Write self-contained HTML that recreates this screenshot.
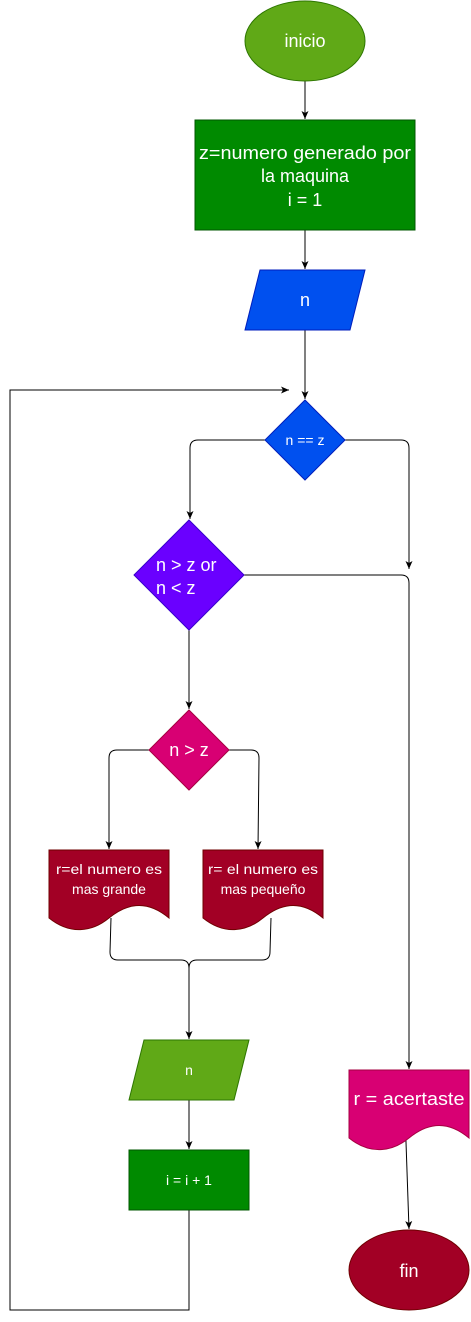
<!DOCTYPE html>
<html><head><meta charset="utf-8"><style>
html,body{margin:0;padding:0;background:#fff;}
svg{display:block;}
text{font-family:"Liberation Sans",sans-serif;fill:#fff;}
</style></head><body>
<svg width="471" height="1322" viewBox="0 0 471 1322">
<defs><marker id="ar" markerWidth="10" markerHeight="10" refX="8" refY="5" orient="auto" markerUnits="userSpaceOnUse"><path d="M0,1.5 L8,5 L0,8.5 L2,5 Z" fill="#000"/></marker></defs>
<g fill="none" stroke="#000" stroke-width="1">
<path d="M305,81 V119" marker-end="url(#ar)"/>
<path d="M305,230 V269" marker-end="url(#ar)"/>
<path d="M305,330 V399" marker-end="url(#ar)"/>
<path d="M265,440 H198 Q190,440 190,448 V519" marker-end="url(#ar)"/>
<path d="M345,440 H401 Q409,440 409,448 V569" marker-end="url(#ar)"/>
<path d="M244,575 H401 Q409,575 409,583 V1069" marker-end="url(#ar)"/>
<path d="M189,630 V709" marker-end="url(#ar)"/>
<path d="M149,750 H117 Q109,750 109,758 V849" marker-end="url(#ar)"/>
<path d="M229,750 H251 Q259,750 259,758 L258,849" marker-end="url(#ar)"/>
<path d="M111,918 L110,952 Q110,960 118,960 H181 Q189,960 189,968"/>
<path d="M271,918 L270,952 Q270,960 262,960 H197 Q189,960 189,968"/>
<path d="M189,968 V1039" marker-end="url(#ar)"/>
<path d="M189,1100 V1149" marker-end="url(#ar)"/>
<path d="M189,1210 V1310 H10 V390 H289" marker-end="url(#ar)"/>
<path d="M405,1113 L409,1229" marker-end="url(#ar)"/>
</g>
<g><ellipse cx="305" cy="41" rx="60" ry="40" fill="#60a917" stroke="#2d7600"/><text x="305" y="47" font-size="18" text-anchor="middle">inicio</text></g>
<g><rect x="195" y="120" width="220" height="110" fill="#008a00" stroke="#005700"/>
<text x="305" y="159" font-size="18" text-anchor="middle" textLength="212" lengthAdjust="spacingAndGlyphs">z=numero generado por</text><text x="305" y="182" font-size="18" text-anchor="middle">la maquina</text><text x="305" y="206" font-size="18" text-anchor="middle">i = 1</text></g>
<g><path d="M260,270 H365 L350,330 H245 Z" fill="#0050ef" stroke="#001dbc"/><text x="305" y="306" font-size="18" text-anchor="middle">n</text></g>
<g><path d="M305,400 L345,440 L305,480 L265,440 Z" fill="#0050ef" stroke="#001dbc"/><text x="305" y="445" font-size="14" text-anchor="middle">n == z</text></g>
<g><path d="M189,520 L244,575 L189,630 L134,575 Z" fill="#6a00ff" stroke="#3700cc"/><text x="156" y="571" font-size="18">n &gt; z or</text><text x="156" y="594" font-size="18">n &lt; z</text></g>
<g><path d="M189,710 L229,750 L189,790 L149,750 Z" fill="#d80073" stroke="#a50040"/><text x="189" y="756" font-size="18" text-anchor="middle">n &gt; z</text></g>
<g><path d="M49,850 H169 V918 C145,898 125,905 109,918 C92,932 70,935 49,918 Z" fill="#a20025" stroke="#6f0000"/><text x="109" y="874" font-size="14" text-anchor="middle" textLength="106" lengthAdjust="spacingAndGlyphs">r=el numero es</text><text x="109" y="894" font-size="14" text-anchor="middle">mas grande</text></g>
<g><path d="M203,850 H323 V918 C299,898 279,905 263,918 C246,932 224,935 203,918 Z" fill="#a20025" stroke="#6f0000"/><text x="263" y="874" font-size="14" text-anchor="middle" textLength="110" lengthAdjust="spacingAndGlyphs">r= el numero es</text><text x="263" y="894" font-size="14" text-anchor="middle">mas pequeño</text></g>
<g><path d="M144,1040 H249 L234,1100 H129 Z" fill="#60a917" stroke="#2d7600"/><text x="189" y="1075" font-size="14" text-anchor="middle">n</text></g>
<g><rect x="129" y="1150" width="120" height="60" fill="#008a00" stroke="#005700"/><text x="189" y="1185" font-size="14" text-anchor="middle">i = i + 1</text></g>
<g><path d="M349,1070 H469 V1138 C445,1118 425,1125 409,1138 C392,1152 370,1155 349,1138 Z" fill="#d80073" stroke="#a50040"/><text x="409" y="1105" font-size="18" text-anchor="middle" textLength="111" lengthAdjust="spacingAndGlyphs">r = acertaste</text></g>
<g><ellipse cx="409" cy="1270" rx="60" ry="40" fill="#a20025" stroke="#6f0000"/><text x="409" y="1277" font-size="18" text-anchor="middle">fin</text></g>
</svg>
</body></html>
